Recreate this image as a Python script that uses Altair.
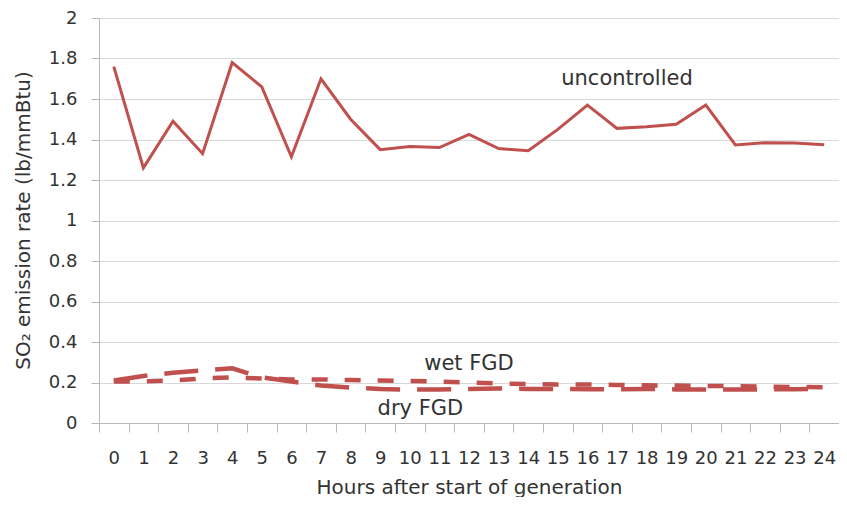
import altair as alt
import pandas as pd

hours = list(range(25))
uncontrolled = [1.76, 1.26, 1.49, 1.33, 1.78, 1.66, 1.315, 1.70, 1.50, 1.35, 1.365, 1.36, 1.425,
                1.355, 1.345, 1.45, 1.57, 1.455, 1.463, 1.475, 1.57, 1.373, 1.384, 1.383, 1.374]
wet_fgd = [0.205, 0.205, 0.21, 0.22, 0.225, 0.22, 0.215, 0.215, 0.212, 0.21, 0.207, 0.205, 0.20,
           0.195, 0.193, 0.19, 0.19, 0.188, 0.186, 0.185, 0.183, 0.182, 0.18, 0.178, 0.177]
dry_fgd = [0.21, 0.232, 0.248, 0.26, 0.27, 0.225, 0.205, 0.185, 0.175, 0.168, 0.165, 0.165, 0.168,
           0.17, 0.168, 0.168, 0.167, 0.167, 0.168, 0.166, 0.165, 0.165, 0.166, 0.167, 0.168]
y_ticks = [0, 0.2, 0.4, 0.6, 0.8, 1, 1.2, 1.4, 1.6, 1.8, 2]

labels = ["uncontrolled", "wet FGD", "dry FGD"]
label_hours = [17, 12, 11]
label_values = [1.70, 0.293, 0.071]
label_dx = [10, 0, -19]

RED = "#C0504D"
FONT = "DejaVu Sans"
TXT = "#333333"

def frame(vals):
    return pd.DataFrame({"hour": hours, "value": vals})

x_enc = alt.X(
    "hour:O",
    bandPosition=0.5,
    scale=alt.Scale(type="band", paddingInner=0, paddingOuter=0),
    axis=alt.Axis(
        title="Hours after start of generation",
        labelAngle=0,
        tickBand="extent",
        tickSize=9,
        tickColor="#b8b8b8",
        domainColor="#b8b8b8",
        labelFontSize=18,
        labelColor=TXT,
        labelPadding=17,
        labelFont=FONT,
        titleFont=FONT,
        titleFontSize=20,
        titleFontWeight="normal",
        titleColor=TXT,
        titleBaseline="alphabetic",
        titleY=70,
        grid=False,
    ),
)
y_enc = alt.Y(
    "value:Q",
    scale=alt.Scale(domain=[0, 2], nice=False),
    axis=alt.Axis(
        title="SO₂ emission rate (lb/mmBtu)",
        values=y_ticks,
        format="~g",
        grid=True,
        gridColor="#d9d9d9",
        tickSize=8,
        tickColor="#b8b8b8",
        domainColor="#b8b8b8",
        labelFontSize=18,
        labelColor=TXT,
        labelPadding=14,
        labelFont=FONT,
        titleFont=FONT,
        titleFontSize=20,
        titleFontWeight="normal",
        titleColor=TXT,
        titleX=-76,
        titleY=202,
        titleAlign="center",
        titleBaseline="middle",
    ),
)

unc = alt.Chart(frame(uncontrolled)).mark_line(color=RED, strokeWidth=3).encode(x=x_enc, y=y_enc)
wet = alt.Chart(frame(wet_fgd)).mark_line(color=RED, strokeWidth=4.5, strokeDash=[16, 17], strokeCap="butt").encode(x=x_enc, y=y_enc)
dry = alt.Chart(frame(dry_fgd)).mark_line(color=RED, strokeWidth=4.5, strokeDash=[34, 17], strokeCap="butt").encode(x=x_enc, y=y_enc)

texts = []
for lab, h, v, dx in zip(labels, label_hours, label_values, label_dx):
    df = pd.DataFrame({"hour": [h], "value": [v], "label": [lab]})
    texts.append(
        alt.Chart(df).mark_text(font=FONT, fontSize=21, color=TXT, dx=dx, align="center", baseline="middle")
        .encode(x=alt.X("hour:O", bandPosition=0.5), y="value:Q", text="label:N")
    )

chart = alt.layer(unc, wet, dry, *texts).properties(
    width=740,
    height=405,
    autosize=alt.AutoSizeParams(type="none"),
    padding={"left": 91, "top": 10, "right": 0, "bottom": 74},
).configure_view(stroke=None).configure(background="white")

chart.save("out.html", embed_options={"renderer": "svg", "actions": False})
